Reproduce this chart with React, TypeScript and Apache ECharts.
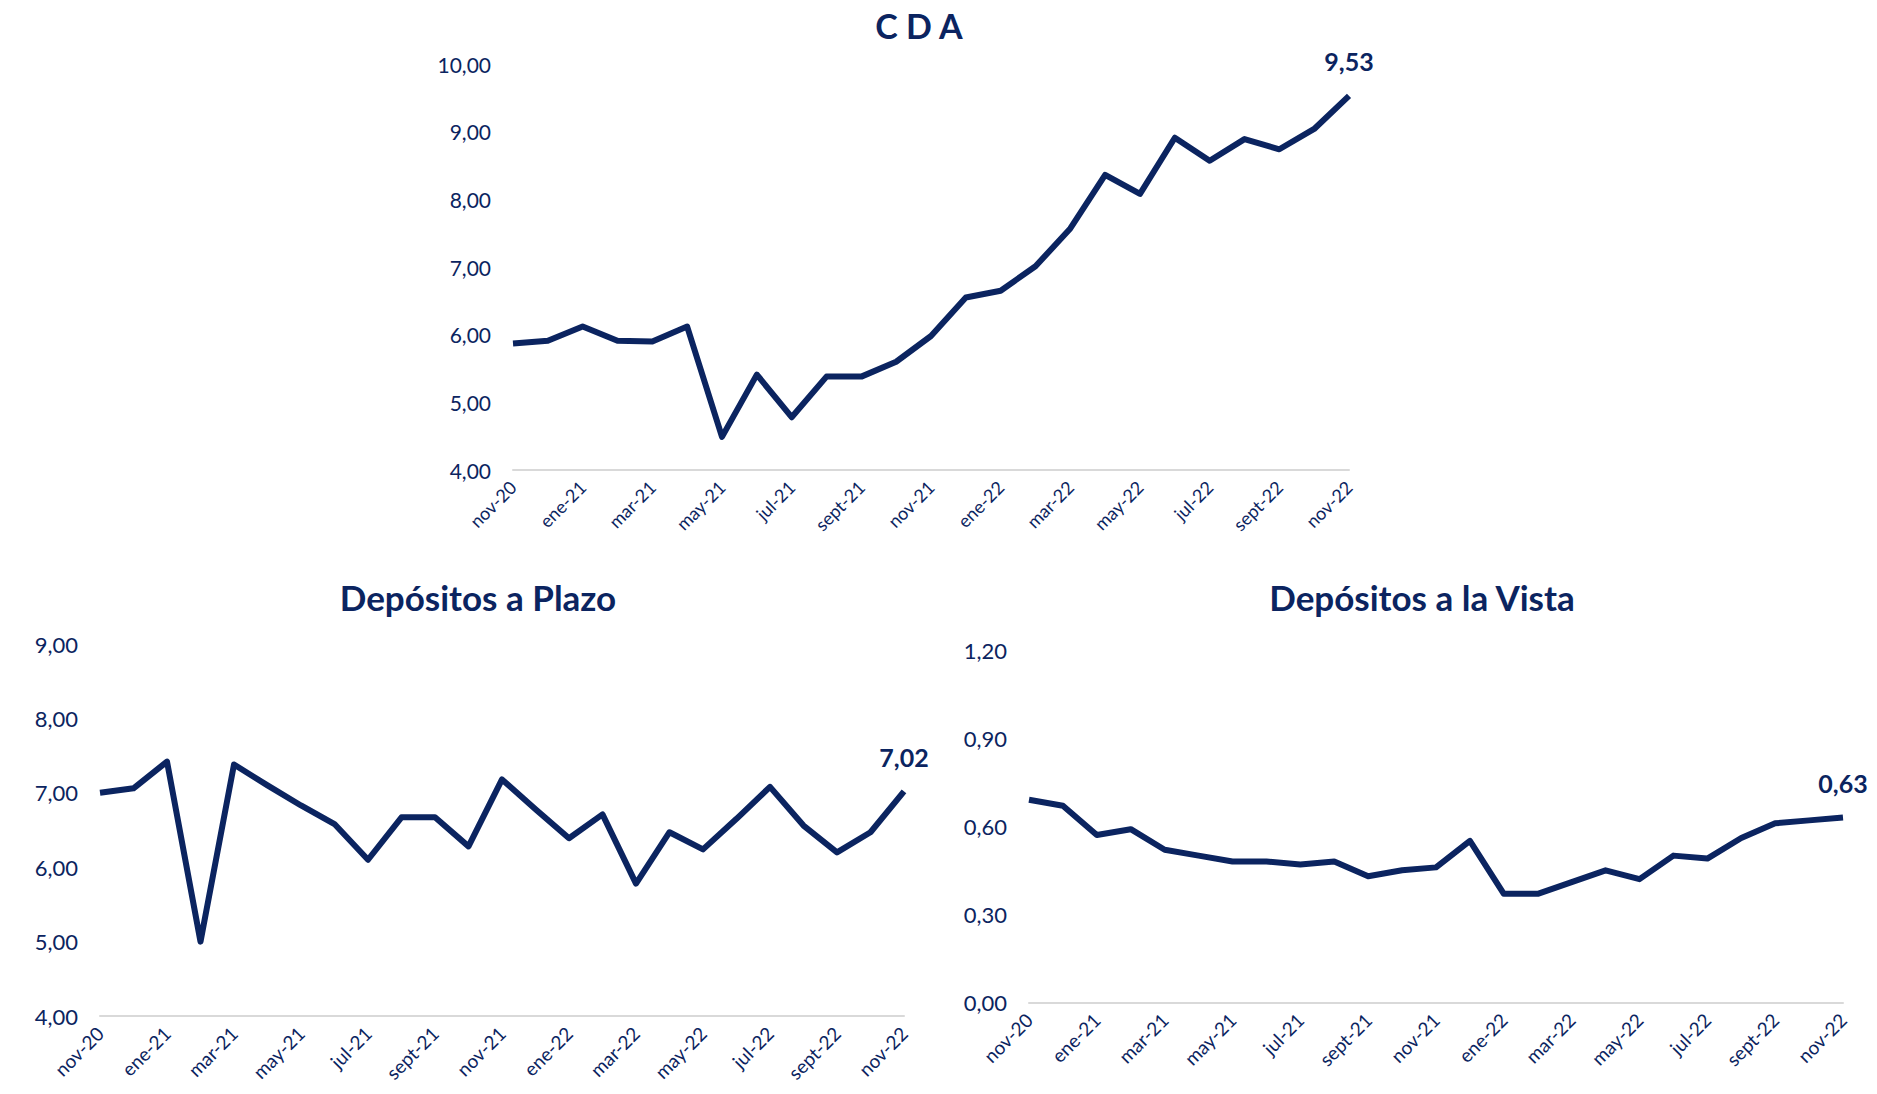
import React, { useEffect, useRef } from "react";
import * as echarts from "echarts";

const months = [
  "nov-20", "dic-20", "ene-21", "feb-21", "mar-21", "abr-21", "may-21", "jun-21",
  "jul-21", "ago-21", "sept-21", "oct-21", "nov-21", "dic-21", "ene-22", "feb-22",
  "mar-22", "abr-22", "may-22", "jun-22", "jul-22", "ago-22", "sept-22", "oct-22", "nov-22",
];

const cdaValues = [
  5.87, 5.91, 6.12, 5.91, 5.9, 6.12, 4.49, 5.41, 4.78, 5.38, 5.38, 5.6, 5.98,
  6.55, 6.65, 7.01, 7.57, 8.36, 8.08, 8.91, 8.57, 8.89, 8.74, 9.04, 9.53,
];

const plazoValues = [
  7.0, 7.06, 7.42, 5.0, 7.38, 7.1, 6.83, 6.58, 6.1, 6.67, 6.67, 6.28, 7.18,
  6.78, 6.39, 6.71, 5.78, 6.47, 6.24, 6.65, 7.08, 6.56, 6.2, 6.47, 7.02,
];

const vistaValues = [
  0.69, 0.67, 0.57, 0.59, 0.52, 0.5, 0.48, 0.48, 0.47, 0.48, 0.43, 0.45, 0.46,
  0.55, 0.37, 0.37, 0.41, 0.45, 0.42, 0.5, 0.49, 0.56, 0.61, 0.62, 0.63,
];

const titles = ["C D A", "Depósitos a Plazo", "Depósitos a la Vista"];

const NAVY = "#0B2460";
const FONT = "Lato";

const fmt = (v: number) => v.toFixed(2).replace(".", ",");

function withLastLabel(values: number[]) {
  return values.map((v, i) =>
    i === values.length - 1
      ? {
          value: v,
          label: {
            show: true,
            position: "top",
            distance: 22,
            formatter: () => fmt(v),
            color: NAVY,
            fontFamily: FONT,
            fontWeight: "bold",
            fontSize: 25,
          },
        }
      : v
  );
}

export default function App() {
  const ref = useRef<HTMLDivElement>(null);

  useEffect(() => {
    document.body.style.margin = "0";
    const chart = echarts.init(ref.current!, null, { renderer: "svg" });

    const grids = [
      { left: 513, top: 64, width: 836, height: 406 },
      { left: 100, top: 644, width: 804, height: 372 },
      { left: 1029, top: 650, width: 814, height: 352.5 },
    ];

    const xLabelSizes = [18, 19, 19];
    const yLabelSizes = [21, 22, 22];

    const xAxes = grids.map((_, i) => ({
      type: "category",
      gridIndex: i,
      data: months,
      boundaryGap: false,
      axisLine: { show: true, lineStyle: { color: "#d9d9d9", width: 2 } },
      axisTick: { show: false },
      axisLabel: {
        interval: 1,
        rotate: 45,
        margin: 14,
        color: NAVY,
        fontFamily: FONT,
        fontSize: xLabelSizes[i],
      },
      splitLine: { show: false },
    }));

    const yRanges = [
      { min: 4, max: 10, interval: 1 },
      { min: 4, max: 9, interval: 1 },
      { min: 0, max: 1.2, interval: 0.3 },
    ];

    const yAxes = yRanges.map((r, i) => ({
      type: "value",
      gridIndex: i,
      min: r.min,
      max: r.max,
      interval: r.interval,
      axisLine: { show: false },
      axisTick: { show: false },
      splitLine: { show: false },
      axisLabel: {
        margin: 22,
        color: NAVY,
        fontFamily: FONT,
        fontSize: yLabelSizes[i],
        formatter: (v: number) => fmt(v),
      },
    }));

    const seriesData = [cdaValues, plazoValues, vistaValues];

    const series = seriesData.map((vals, i) => ({
      type: "line",
      xAxisIndex: i,
      yAxisIndex: i,
      data: withLastLabel(vals),
      showSymbol: true,
      symbol: "circle",
      symbolSize: 0,
      lineStyle: { color: NAVY, width: 6, join: "round" },
      itemStyle: { color: NAVY },
      label: { show: false },
      emphasis: { disabled: true },
    }));

    const titlePos = [
      { x: 919, y: 25, size: 34 },
      { x: 478, y: 597, size: 35 },
      { x: 1422, y: 597, size: 35 },
    ];

    const graphic = titles.map((t, i) => ({
      type: "text",
      x: titlePos[i].x,
      y: titlePos[i].y,
      style: {
        text: t,
        fill: NAVY,
        font: `bold ${titlePos[i].size}px ${FONT}`,
        textAlign: "center",
        textVerticalAlign: "middle",
      },
    }));

    chart.setOption({
      animation: false,
      backgroundColor: "#ffffff",
      grid: grids,
      xAxis: xAxes,
      yAxis: yAxes,
      series,
      graphic,
    });

    return () => chart.dispose();
  }, []);

  return <div ref={ref} style={{ width: 1877, height: 1094 }} />;
}
